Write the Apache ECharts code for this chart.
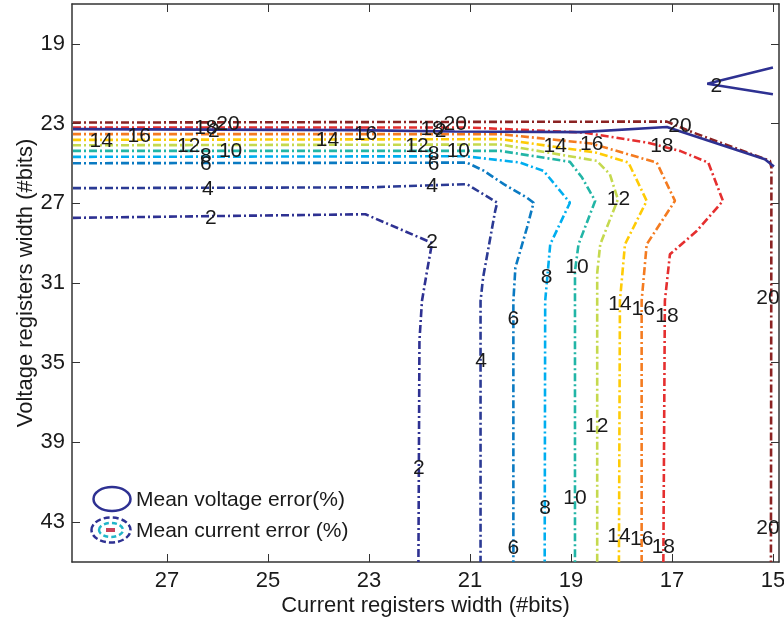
<!DOCTYPE html>
<html><head><meta charset="utf-8">
<script src="https://cdn.jsdelivr.net/npm/echarts@6/dist/echarts.min.js"></script>
<style>html,body{margin:0;padding:0;background:#fff}#c{width:784px;height:619px}</style>
</head><body><div id="c"></div>
<script>
// ---- data ----
const xTicks = [15, 17, 19, 21, 23, 25, 27];
const yTicks = [19, 23, 27, 31, 35, 39, 43];
const levels = [2, 4, 6, 8, 10, 12, 14, 16, 18, 20];

// mean current error contours (x = current bits, y = voltage bits)
const cur2  = [[28.86,27.73],[23.07,27.55],[21.75,28.99],[21.85,30.4],[21.95,31.9],[22.0,33.9],[22.02,45]];
const cur4  = [[28.86,26.24],[23.0,26.2],[21.06,26.04],[20.46,26.97],[20.5,27.38],[20.74,30.73],[20.79,31.9],[20.79,45]];
const cur6  = [[28.86,24.99],[21.06,24.96],[20.73,25.36],[20.33,26.04],[19.87,26.72],[19.74,26.97],[19.87,28.22],[20.1,30.23],[20.14,31.9],[20.14,45]];
const cur8  = [[28.86,24.67],[21.1,24.64],[20.4,24.84],[20.0,24.96],[19.54,25.38],[19.02,26.97],[19.41,29.06],[19.51,31.9],[19.52,45]];
const cur10 = [[28.86,24.37],[20.4,24.37],[19.02,24.92],[18.78,25.71],[18.52,26.88],[18.85,29.06],[18.92,30.4],[18.92,45]];
const cur12 = [[28.86,24.09],[20.4,24.05],[18.49,24.87],[18.23,25.54],[18.07,26.8],[18.29,28.22],[18.42,29.06],[18.48,30.5],[18.48,45]];
const cur14 = [[28.86,23.82],[20.4,23.78],[18.49,24.46],[17.86,24.96],[17.5,26.88],[17.93,29.06],[18.03,31.9],[18.05,45]];
const cur16 = [[28.86,23.53],[20.4,23.53],[18.6,24.0],[17.3,24.96],[16.94,26.88],[17.5,29.06],[17.6,31.9],[17.6,45]];
const cur18 = [[28.86,23.2],[21.0,23.2],[18.76,23.45],[17.5,23.95],[16.84,24.37],[16.28,24.96],[15.99,26.88],[16.51,28.39],[17.04,29.56],[17.14,31.9],[17.17,45]];
const cur20 = [[28.86,22.95],[17.1,22.9],[16.58,23.45],[15.06,24.87],[15.03,25.21],[15.04,45]];

// mean voltage error contour (level 2)
const volt2a = [[28.86,23.28],[23.3,23.33],[21.3,23.4],[18.8,23.43],[17.1,23.17],[15.16,24.79],[14.98,25.15]];
const volt2b = [[15.0,20.19],[16.3,21.0],[15.0,21.53]];

// contour label anchor points
const curLabels2  = [[26.13,27.73],[21.75,28.97],[22.01,40.27]];
const curLabels4  = [[26.19,26.28],[21.75,26.13],[20.78,34.91]];
const curLabels6  = [[26.23,25.02],[21.72,25.02],[20.14,32.82],[20.14,44.29]];
const curLabels8  = [[26.23,24.62],[21.72,24.52],[19.48,30.73],[19.51,42.28]];
const curLabels10 = [[25.74,24.37],[21.23,24.37],[18.88,30.23],[18.92,41.78]];
const curLabels12 = [[26.57,24.12],[22.05,24.12],[18.06,26.8],[18.49,38.18]];
const curLabels14 = [[28.3,23.87],[23.82,23.82],[19.31,24.12],[18.03,32.05],[18.05,43.7]];
const curLabels16 = [[27.55,23.62],[23.07,23.52],[18.59,24.04],[17.57,32.3],[17.6,43.85]];
const curLabels18 = [[26.23,23.22],[21.75,23.27],[17.2,24.12],[17.1,32.65],[17.17,44.25]];
const curLabels20 = [[25.79,23.02],[21.29,23.02],[16.84,23.12],[15.1,31.74],[15.1,43.28]];
const voltLabels2 = [[26.07,23.37],[21.58,23.37],[16.12,21.11]];

// ---- styles ----
const levelColors = ['#2e3192','#2b3a94','#0a7ac2','#00aeef','#22b5a6','#c5d94e','#ffcb05','#f47b20','#e52f2f','#8b2323'];
const voltColor = '#2e3192';
const FONT = 'Liberation Sans, Arial, Helvetica, sans-serif';
const TXT = '#1a1a1a';
const dashDot = [8, 3, 2, 3];

const curLines = [cur2, cur4, cur6, cur8, cur10, cur12, cur14, cur16, cur18, cur20];
const curLabelSets = [curLabels2, curLabels4, curLabels6, curLabels8, curLabels10, curLabels12, curLabels14, curLabels16, curLabels18, curLabels20];

const series = [];
curLines.forEach((pts, i) => {
  series.push({
    type: 'line', name: 'I' + levels[i], data: pts, showSymbol: false, symbol: 'none',
    lineStyle: { color: levelColors[i], width: 2.6, type: dashDot }, z: 2, silent: true
  });
});
[volt2a, volt2b].forEach((pts, k) => {
  series.push({
    type: 'line', name: 'V2_' + k, data: pts, showSymbol: false, symbol: 'none',
    lineStyle: { color: voltColor, width: 2.6, type: 'solid' }, z: 3, silent: true
  });
});
const labelData = [];
curLabelSets.forEach((set, i) => set.forEach(p => labelData.push([p[0], p[1], levels[i]])));
voltLabels2.forEach(p => labelData.push([p[0], p[1], 2]));
series.push({
  type: 'scatter', data: labelData, symbolSize: 0, z: 5, silent: true,
  itemStyle: { opacity: 1 },
  label: {
    show: true, position: 'inside', formatter: p => String(p.value[2]),
    fontSize: 21, fontFamily: FONT, color: TXT, opacity: 1
  }
});

function xAx(pos, showLabels) {
  return {
    type: 'value', position: pos, inverse: true, min: 14.88, max: 28.88,
    axisLine: { show: true, onZero: false, lineStyle: { color: '#333', width: 1.5 } },
    axisTick: { show: true, inside: true, length: 8, customValues: xTicks, lineStyle: { color: '#333', width: 1 } },
    axisLabel: { show: showLabels, customValues: xTicks, fontSize: 22, fontFamily: FONT, color: TXT, margin: 8 },
    splitLine: { show: false },
    name: showLabels ? 'Current registers width (#bits)' : '',
    nameLocation: 'middle', nameGap: 33, nameMoveOverlap: false,
    nameTextStyle: { fontSize: 22, fontFamily: FONT, color: TXT }
  };
}
function yAx(pos, showLabels) {
  return {
    type: 'value', position: pos, inverse: true, min: 17, max: 45,
    axisLine: { show: true, onZero: false, lineStyle: { color: '#333', width: 1.5 } },
    axisTick: { show: true, inside: true, length: 8, customValues: yTicks, lineStyle: { color: '#333', width: 1 } },
    axisLabel: { show: showLabels, customValues: yTicks, fontSize: 22, fontFamily: FONT, color: TXT, margin: 7 },
    splitLine: { show: false },
    name: showLabels ? 'Voltage registers width (#bits)' : '',
    nameLocation: 'middle', nameGap: 35, nameMoveOverlap: false,
    nameTextStyle: { fontSize: 22, fontFamily: FONT, color: TXT }
  };
}

const chart = echarts.init(document.getElementById('c'), null, { renderer: 'canvas' });
chart.setOption({
  animation: false,
  backgroundColor: '#fff',
  grid: { left: 72, right: 5, top: 4, bottom: 57, containLabel: false, outerBoundsMode: 'none' },
  xAxis: [xAx('bottom', true), xAx('top', false)],
  yAxis: [yAx('left', true), yAx('right', false)],
  series: series,
  graphic: [
    { type: 'ellipse', shape: { cx: 112, cy: 499, rx: 18.5, ry: 12 }, style: { fill: 'none', stroke: voltColor, lineWidth: 2.5 }, z: 10 },
    { type: 'ellipse', shape: { cx: 111, cy: 530, rx: 19.5, ry: 12.5 }, style: { fill: 'none', stroke: '#2e3192', lineWidth: 2.5, lineDash: [6, 3] }, z: 10 },
    { type: 'ellipse', shape: { cx: 111, cy: 530, rx: 12, ry: 7 }, style: { fill: 'none', stroke: '#22b5c8', lineWidth: 2.5, lineDash: [5, 3] }, z: 10 },
    { type: 'rect', shape: { x: 106, y: 528, width: 9, height: 4 }, style: { fill: '#c8415a' }, z: 10 },
    { type: 'text', x: 136, y: 500, style: { text: 'Mean voltage error(%)', font: '21px ' + FONT, fill: TXT, verticalAlign: 'middle', textVerticalAlign: 'middle' }, z: 10 },
    { type: 'text', x: 136, y: 531, style: { text: 'Mean current error (%)', font: '21px ' + FONT, fill: TXT, verticalAlign: 'middle', textVerticalAlign: 'middle' }, z: 10 }
  ]
});
</script></body></html>
